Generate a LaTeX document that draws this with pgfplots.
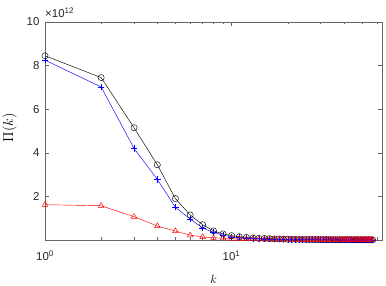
\documentclass[border=0pt]{standalone}
\usepackage{fontspec}
\setmainfont{Liberation Sans}
\usepackage{pgfplots}
\usepackage{pgfplotstable}
\pgfplotsset{compat=1.18}
\pgfplotstableread{
k b u r
1 8.45 8.25 1.62
2 7.45 7.02 1.57
3 5.15 4.20 1.07
4 3.45 2.78 0.64
5 1.90 1.50 0.41
6 1.15 0.96 0.22
7 0.70 0.55 0.14
8 0.42 0.35 0.10
9 0.28 0.22 0.08
10 0.20 0.15 0.06
11 0.15 0.11 0.05
12 0.12 0.09 0.045
13 0.10 0.07 0.04
14 0.08 0.06 0.035
15 0.07 0.05 0.03
16 0.06 0.045 0.028
17 0.05 0.04 0.026
18 0.045 0.036 0.024
19 0.04 0.033 0.022
20 0.036 0.03 0.02
21 0.033 0.028 0.019
22 0.03 0.026 0.018
23 0.028 0.024 0.017
24 0.026 0.022 0.016
25 0.024 0.021 0.015
26 0.023 0.02 0.014
27 0.022 0.019 0.014
28 0.021 0.018 0.013
29 0.02 0.017 0.013
30 0.019 0.016 0.012
31 0.018 0.016 0.012
32 0.017 0.015 0.011
33 0.017 0.015 0.011
34 0.016 0.014 0.011
35 0.016 0.014 0.010
36 0.015 0.013 0.010
37 0.015 0.013 0.010
38 0.014 0.012 0.010
39 0.014 0.012 0.009
40 0.013 0.012 0.009
41 0.013 0.011 0.009
42 0.013 0.011 0.009
43 0.012 0.011 0.008
44 0.012 0.010 0.008
45 0.012 0.010 0.008
46 0.011 0.010 0.008
47 0.011 0.010 0.008
48 0.011 0.009 0.007
49 0.010 0.009 0.007
50 0.010 0.009 0.007
51 0.010 0.009 0.007
52 0.010 0.008 0.007
53 0.009 0.008 0.007
54 0.009 0.008 0.006
55 0.009 0.008 0.006
56 0.009 0.008 0.006
57 0.009 0.008 0.006
}\datatable
\begin{document}
\begin{tikzpicture}
\begin{axis}[
  name=ax,
  scale only axis, width=337bp, height=218bp,
  xmode=log, xmin=1, xmax=64, ymin=0, ymax=10,
  xtick={1,10},
  xticklabels={10\textsuperscript{0},10\textsuperscript{1}},
  minor xtick={2,3,4,5,6,7,8,9,20,30,40,50,60},
  ytick={2,4,6,8,10},
  tick align=inside,
  major tick length=4bp, minor tick length=2.5bp,
  axis line style={black!60, line width=0.45pt},
  every tick/.style={black!60, line width=0.45pt},
  /pgf/number format/assume math mode=true,
  tick label style={font=\fontsize{11.5}{13}\selectfont, text=black!85},
  xlabel={$k$},
  label style={font=\fontsize{12}{14}\selectfont},
  xlabel style={at={(axis description cs:0.5,-0.179)}, anchor=center},
  xticklabel style={yshift=-7bp},
  yticklabel style={xshift=-2bp},
  clip=false,
]
\addplot[black, line width=0.45pt, mark=o, mark size=3.1pt, mark options={line width=0.45pt}] table[x=k, y=b] {\datatable};
\addplot[blue, line width=0.45pt, mark=+, mark size=3.2pt, mark options={line width=0.45pt}] table[x=k, y=u] {\datatable};
\addplot[red, line width=0.45pt, mark=triangle, mark size=3.3pt, mark options={line width=0.45pt}] table[x=k, y=r] {\datatable};
\node[anchor=base west, inner sep=0pt, font=\fontsize{11.5}{13}\selectfont, text=black!85] at (rel axis cs:0,1) [yshift=4.5bp] {×10\textsuperscript{12}};
\node[rotate=90, anchor=center, inner sep=0pt, font=\fontsize{14.4}{17}\selectfont] at (axis description cs:-0.105,0.515) {$\Pi(k)$};
\end{axis}
\path (ax.south west) ++(-45bp,-46bp) coordinate (bbA);
\path (ax.north east) ++(4bp,22bp) coordinate (bbB);
\pgfresetboundingbox
\path[use as bounding box] (bbA) rectangle (bbB);
\end{tikzpicture}
\end{document}
